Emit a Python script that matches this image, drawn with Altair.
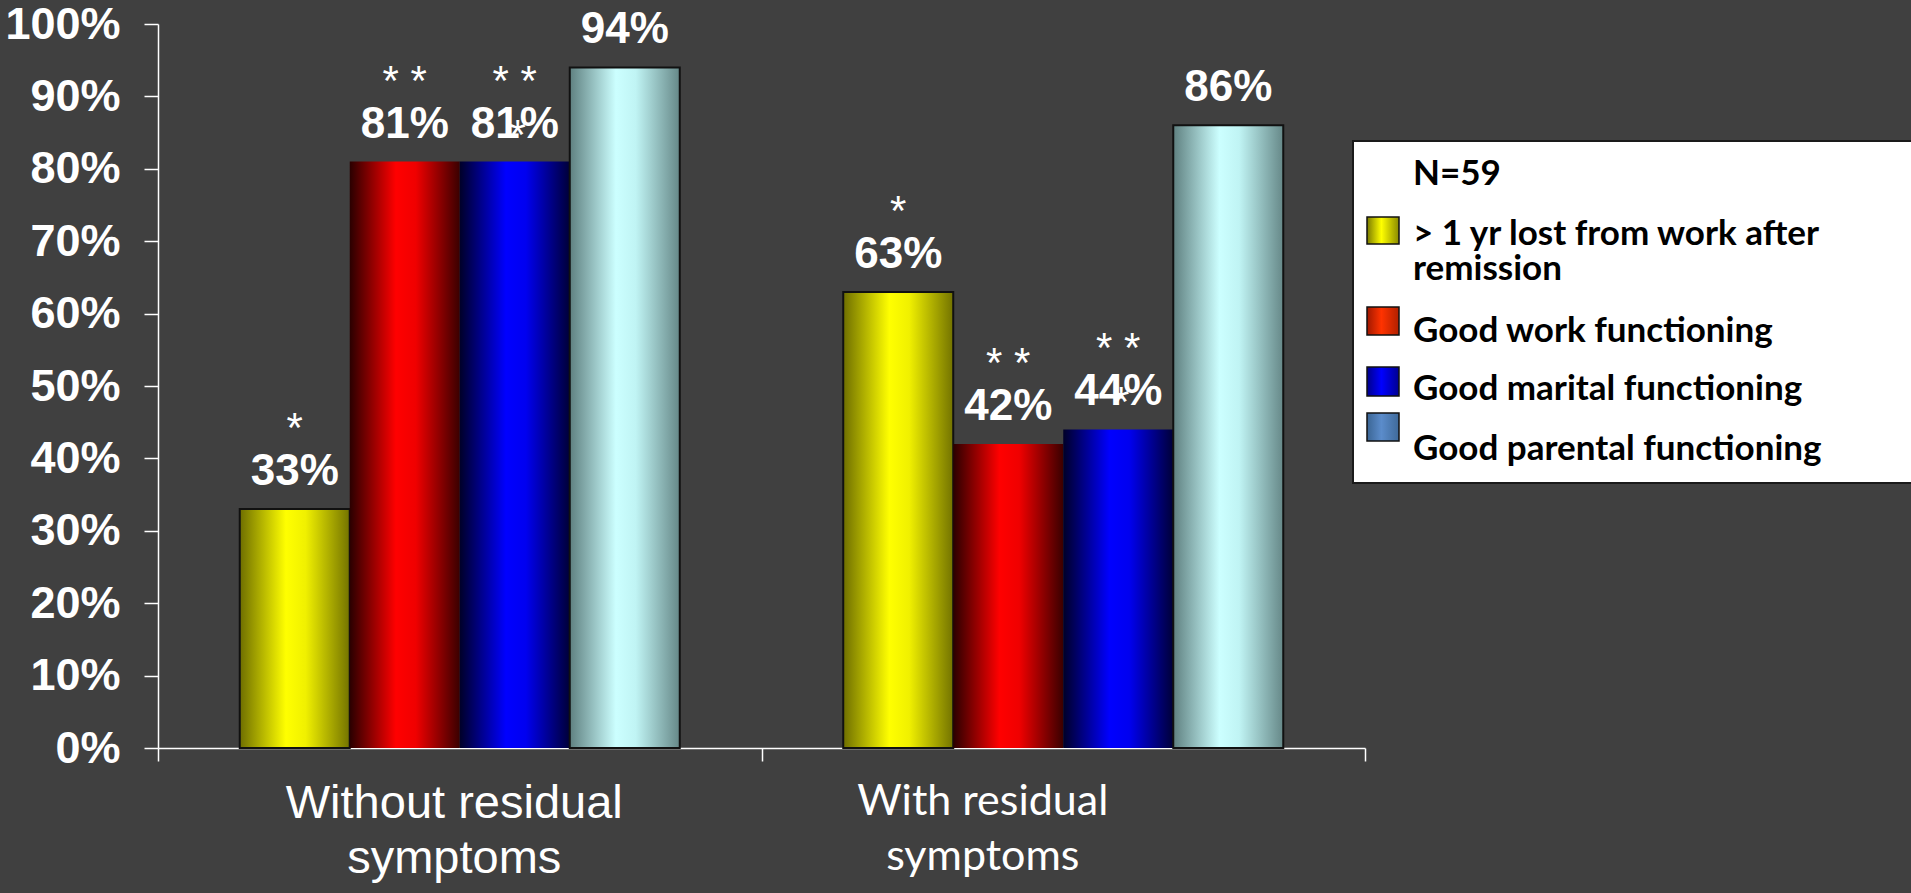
import altair as alt
import pandas as pd

# ---- data -------------------------------------------------------------
groups = ["Without residual\nsymptoms", "With residual\nsymptoms"]
series = [
    "> 1 yr lost from work after remission",
    "Good work functioning",
    "Good marital functioning",
    "Good parental functioning",
]
lost_work = [33, 63]
work_func = [81, 42]
marital_func = [81, 44]
parental_func = [94, 86]

# significance markers printed above each bar
stars_lost = ["*", "*"]
stars_work = ["* *", "* *"]
stars_marital = ["* *", "* *"]
stars_parental = ["", ""]
# a second marker that sits on top of the marital-functioning labels
extra_marital = ["*", "*"]

sample_note = "N=59"
y_ticks = [0, 10, 20, 30, 40, 50, 60, 70, 80, 90, 100]

values_by_series = [lost_work, work_func, marital_func, parental_func]
stars_by_series = [stars_lost, stars_work, stars_marital, stars_parental]

rows = []
for s, vals, stars in zip(series, values_by_series, stars_by_series):
    for g, v, st in zip(groups, vals, stars):
        rows.append({"group": g, "series": s, "value": v, "stars": st})
df = pd.DataFrame(rows)
df["label"] = df["value"].astype(str) + "%"

extra = pd.DataFrame({"group": groups, "series": series[2], "value": marital_func,
                      "stars": extra_marital})

# ---- styling ----------------------------------------------------------
BG = "#404040"
W, H = 1207, 724
LEFT, TOP = 158, 24


def hgrad(stops):
    return alt.Gradient(
        gradient="linear", x1=0, x2=1, y1=0, y2=0,
        stops=[alt.GradientStop(color=c, offset=o) for o, c in stops],
    )


bar_fills = [
    hgrad([(0, "#6e6e00"), (0.42, "#ffff00"), (0.6, "#f0f000"), (1, "#737300")]),
    hgrad([(0, "#2a0000"), (0.42, "#ff0000"), (0.6, "#f00000"), (1, "#3a0000")]),
    hgrad([(0, "#000028"), (0.42, "#0000ff"), (0.6, "#0000f0"), (1, "#000038")]),
    hgrad([(0, "#5f8080"), (0.42, "#ccffff"), (0.6, "#c0f4f4"), (1, "#668888")]),
]
bar_strokes = ["#111111", None, None, "#111111"]

swatch_fills = [
    hgrad([(0, "#7a7a00"), (0.45, "#ffff00"), (1, "#8a8a00")]),
    hgrad([(0, "#a01800"), (0.45, "#ff3300"), (1, "#b02000")]),
    hgrad([(0, "#00008a"), (0.45, "#0000ff"), (1, "#000090")]),
    hgrad([(0, "#3b6594"), (0.45, "#5b8ccb"), (1, "#3f6a9a")]),
]


def by_group(first, second):
    """Axis property that differs between the two category labels."""
    return {"condition": {"test": "datum.index > 0.5", "value": second}, "value": first}


x_enc = alt.X(
    "group:N",
    sort=groups,
    scale=alt.Scale(domain=groups, paddingInner=0, paddingOuter=0),
    axis=alt.Axis(
        title=None,
        labelExpr="split(datum.label, '\\n')",
        labelAngle=0,
        labelFont=by_group("Liberation Sans", "Lato"),
        labelFontSize=by_group(47, 43),
        labelOffset=by_group(-6, -81),
        labelColor="white",
        labelPadding=19,
        labelLineHeight=55,
        labelLimit=1000,
        tickBand="extent",
        tickSize=13,
        tickColor="white",
        tickWidth=1.5,
        domainColor="white",
        domainWidth=1.5,
        grid=False,
    ),
)
xo_enc = alt.XOffset(
    "series:N",
    sort=series,
    scale=alt.Scale(domain=series, paddingInner=0, paddingOuter=0.743),
)
y_enc = alt.Y(
    "value:Q",
    scale=alt.Scale(domain=[0, 100], nice=False),
    axis=alt.Axis(
        title=None,
        values=y_ticks,
        labelExpr="datum.value + '%'",
        labelFont="Liberation Sans",
        labelFontWeight="bold",
        labelFontSize=45,
        labelColor="white",
        labelPadding=24,
        tickSize=14,
        tickColor="white",
        tickWidth=1.5,
        domainColor="white",
        domainWidth=1.5,
        grid=False,
    ),
)

base = alt.Chart(df)

layers = []
for s, fill, stroke in zip(series, bar_fills, bar_strokes):
    mark_kw = dict(fill=fill)
    if stroke:
        mark_kw.update(stroke=stroke, strokeWidth=2)
    else:
        mark_kw.update(strokeWidth=0)
    layers.append(
        base.transform_filter(alt.datum.series == s)
        .mark_bar(**mark_kw)
        .encode(x=x_enc, xOffset=xo_enc, y=y_enc)
    )

value_labels = base.mark_text(
    font="Liberation Sans", fontWeight="bold", fontSize=44, color="white",
    baseline="alphabetic", dy=-24,
).encode(x=x_enc, xOffset=xo_enc, y=y_enc, text="label:N")

star_labels = base.mark_text(
    font="Liberation Sans", fontSize=42, color="white",
    baseline="alphabetic", dy=-67,
).encode(x=x_enc, xOffset=xo_enc, y=y_enc, text="stars:N")

extra_stars = alt.Chart(extra).mark_text(
    font="Liberation Sans", fontSize=42, color="white",
    baseline="alphabetic", dy=-13, dx=3,
).encode(x=x_enc, xOffset=xo_enc, y=y_enc, text="stars:N")

# ---- legend box (drawn in pixel space to the right of the bars) -------
legend_box = alt.Chart(pd.DataFrame({"k": [0]})).mark_rect(
    fill="white", stroke="#1a1a1a", strokeWidth=2
).encode(
    x=alt.value(1353 - LEFT), x2=alt.value(1930 - LEFT),
    y=alt.value(141 - TOP), y2=alt.value(483 - TOP),
)

swatch_y = [(217, 244), (307, 335), (367, 396), (413, 441)]
legend_layers = [legend_box]
for fill, (y0, y1) in zip(swatch_fills, swatch_y):
    legend_layers.append(
        alt.Chart(pd.DataFrame({"k": [0]})).mark_rect(
            fill=fill, stroke="#111111", strokeWidth=1.5
        ).encode(
            x=alt.value(1367 - LEFT), x2=alt.value(1399 - LEFT),
            y=alt.value(y0 - TOP), y2=alt.value(y1 - TOP),
        )
    )

legend_font = dict(font="Lato", fontWeight="bold", fontSize=35, color="black",
                   align="left", baseline="alphabetic")
legend_texts = [
    (sample_note, 185),
    ("> 1 yr lost from work after\nremission", 245),
    (series[1], 342),
    (series[2], 400),
    (series[3], 460),
]
for txt, yb in legend_texts:
    legend_layers.append(
        alt.Chart(pd.DataFrame({"k": [0]})).mark_text(
            lineBreak="\n", lineHeight=35, **legend_font
        ).encode(
            x=alt.value(1413 - LEFT), y=alt.value(yb - TOP), text=alt.value(txt)
        )
    )

chart = alt.layer(
    *layers, value_labels, star_labels, extra_stars, *legend_layers
).properties(
    width=W,
    height=H,
    autosize=alt.AutoSizeParams(type="none"),
    padding={"left": LEFT, "top": TOP, "right": 1911 - LEFT - W, "bottom": 893 - TOP - H},
    background=BG,
).configure_view(stroke=None)

chart.save("out.html", embed_options={"renderer": "svg", "actions": False})
